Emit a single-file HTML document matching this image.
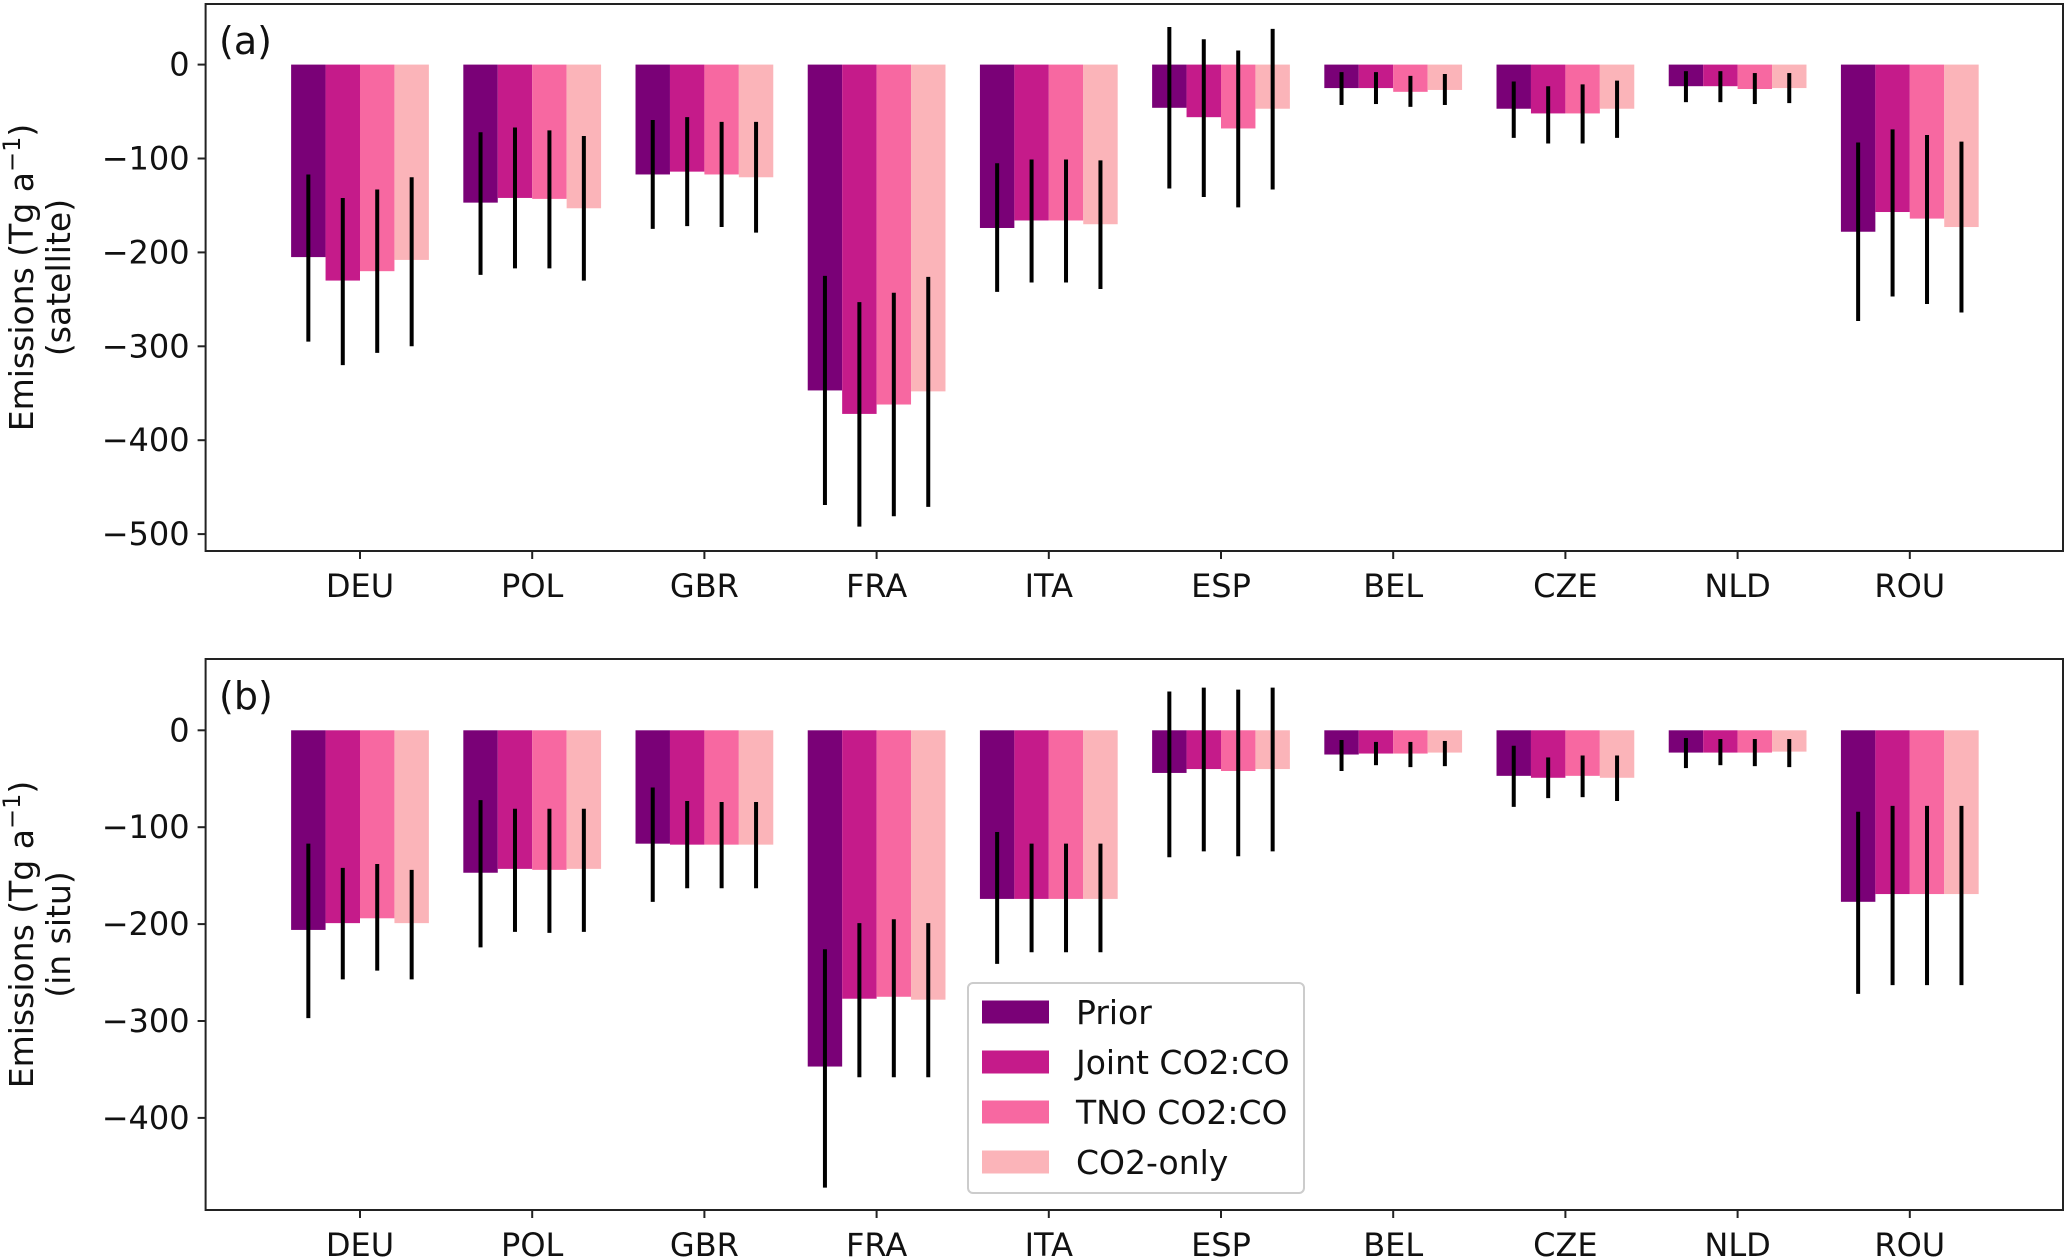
<!DOCTYPE html>
<html><head><meta charset="utf-8"><style>
body{margin:0;background:#fff}
svg{display:block;font-family:"DejaVu Sans","Liberation Sans",sans-serif}
</style></head><body>
<svg id="chart" width="2067" height="1258" viewBox="0 0 2067 1258" xmlns="http://www.w3.org/2000/svg"></svg>
<script>
const categories = ["DEU","POL","GBR","FRA","ITA","ESP","BEL","CZE","NLD","ROU"];
const seriesNames = ["Prior","Joint CO2:CO","TNO CO2:CO","CO2-only"];
const colors = ["#7a0177","#c51b8a","#f768a1","#fbb4b9"];
const yTicksA = [0,-100,-200,-300,-400,-500];
const yTicksB = [0,-100,-200,-300,-400];
// Panel (a) satellite
const aPrior = [-205,-147,-117,-347,-174,-46,-25,-47,-23,-178];
const aJoint = [-230,-142,-114,-372,-166,-56,-25,-52,-23,-157];
const aTNO   = [-220,-143,-117,-362,-166,-68,-29,-52,-26,-164];
const aCO2   = [-208,-153,-120,-348,-170,-47,-27,-47,-25,-173];
const aPriorLo = [-117,-72,-59,-225,-105,40,-8,-18,-7,-83];
const aPriorHi = [-295,-224,-175,-469,-242,-132,-43,-78,-40,-273];
const aJointLo = [-142,-67,-56,-253,-101,27,-8,-23,-7,-69];
const aJointHi = [-320,-217,-172,-492,-232,-141,-42,-84,-40,-247];
const aTNOLo = [-133,-70,-61,-243,-101,15,-12,-21,-9,-75];
const aTNOHi = [-307,-217,-173,-481,-232,-152,-45,-84,-42,-255];
const aCO2Lo = [-120,-76,-61,-226,-102,38,-10,-17,-9,-82];
const aCO2Hi = [-300,-230,-179,-471,-239,-133,-43,-78,-41,-264];
// Panel (b) in situ
const bPrior = [-206,-147,-117,-347,-174,-44,-25,-47,-23,-177];
const bJoint = [-199,-143,-118,-277,-174,-40,-24,-49,-23,-169];
const bTNO   = [-194,-144,-118,-275,-174,-42,-24,-47,-23,-169];
const bCO2   = [-199,-143,-118,-278,-174,-40,-23,-49,-22,-169];
const bPriorLo = [-117,-72,-59,-226,-105,40,-10,-16,-8,-84];
const bPriorHi = [-297,-224,-177,-472,-241,-131,-42,-79,-39,-272];
const bJointLo = [-142,-81,-73,-199,-117,44,-12,-28,-9,-78];
const bJointHi = [-257,-208,-163,-358,-229,-125,-36,-70,-36,-263];
const bTNOLo = [-138,-81,-74,-195,-117,42,-12,-26,-9,-78];
const bTNOHi = [-248,-209,-163,-358,-229,-130,-38,-69,-37,-263];
const bCO2Lo = [-144,-81,-74,-199,-117,44,-11,-26,-9,-78];
const bCO2Hi = [-257,-208,-163,-358,-229,-125,-37,-73,-38,-263];

const svg = document.getElementById('chart');
const NS = "http://www.w3.org/2000/svg";
function mk(tag, attrs, parent){const e=document.createElementNS(NS,tag);for(const k in attrs)e.setAttribute(k,attrs[k]);(parent||svg).appendChild(e);return e;}

const L=205.6,R=2063,x0=360,dx=172.2,bw=dx*0.2;
function xScale(i){return x0+i*dx;}

function panel(p){
  const g=mk('g',{});
  
  
  const yS=v=>p.zeroY - v*p.per100/100;
  const vals=[p.v0,p.v1,p.v2,p.v3], los=[p.l0,p.l1,p.l2,p.l3], his=[p.h0,p.h1,p.h2,p.h3];
  for(let s=0;s<4;s++){
    for(let i=0;i<categories.length;i++){
      const xc=xScale(i)+(s-1.5)*bw;
      const v=vals[s][i];
      const r=mk('rect',{x:xc-bw/2,y:Math.min(yS(0),yS(v)),width:bw,height:Math.abs(yS(v)-yS(0)),fill:colors[s]},g);
      
      
    }
  }
  for(let s=0;s<4;s++){
    for(let i=0;i<categories.length;i++){
      const xc=xScale(i)+(s-1.5)*bw;
      const e=mk('line',{x1:xc,x2:xc,y1:yS(los[s][i]),y2:yS(his[s][i]),stroke:'#000','stroke-width':4},g);
      
      
    }
  }
  const fr=mk('rect',{x:L,y:p.top,width:R-L,height:p.bottom-p.top,fill:'none',stroke:'#222','stroke-width':2},g);
  
  
  p.ticks.forEach(t=>{
    const yy=yS(t);
    mk('line',{x1:L-8,x2:L,y1:yy,y2:yy,stroke:'#222','stroke-width':2},g);
    const tx=mk('text',{x:L-16,y:yy+11,'text-anchor':'end','font-size':32,fill:'#111'},g);
    tx.textContent=(t<0?'\u2212':'')+Math.abs(t);
    
    
  });
  categories.forEach((c,i)=>{
    const xx=xScale(i);
    mk('line',{x1:xx,x2:xx,y1:p.bottom,y2:p.bottom+8,stroke:'#222','stroke-width':2},g);
    const tx=mk('text',{x:xx,y:p.bottom+46,'text-anchor':'middle','font-size':32,fill:'#111'},g);
    tx.textContent=c;
    
    
  });
  const lab=mk('text',{x:219,y:p.top+50,'font-size':38,fill:'#111'},g);
  lab.textContent=p.label;
  
  
  const cy=(p.top+p.bottom)/2;
  const yt=mk('text',{transform:`translate(33,${cy}) rotate(-90)`,'text-anchor':'middle','font-size':33,fill:'#111'},g);
  yt.innerHTML='Emissions (Tg a<tspan dy="-13" font-size="24">\u22121</tspan><tspan dy="13">)</tspan>';
  
  
  const yt2=mk('text',{transform:`translate(70,${cy}) rotate(-90)`,'text-anchor':'middle','font-size':33,fill:'#111'},g);
  yt2.textContent=p.sub;
  
  
}
panel({name:'panel-a-satellite',top:4,bottom:551,zeroY:64.6,per100:93.9,ticks:yTicksA,label:'(a)',sub:'(satellite)',
  v0:aPrior,v1:aJoint,v2:aTNO,v3:aCO2,l0:aPriorLo,l1:aJointLo,l2:aTNOLo,l3:aCO2Lo,h0:aPriorHi,h1:aJointHi,h2:aTNOHi,h3:aCO2Hi});
panel({name:'panel-b-in-situ',top:659,bottom:1210,zeroY:730.3,per100:96.9,ticks:yTicksB,label:'(b)',sub:'(in situ)',
  v0:bPrior,v1:bJoint,v2:bTNO,v3:bCO2,l0:bPriorLo,l1:bJointLo,l2:bTNOLo,l3:bCO2Lo,h0:bPriorHi,h1:bJointHi,h2:bTNOHi,h3:bCO2Hi});

const lg=mk('g',{});


mk('rect',{x:968,y:983,width:336,height:210,rx:5,fill:'#fff','fill-opacity':0.85,stroke:'#ccc','stroke-width':2},lg);
seriesNames.forEach((n,s)=>{
  const yy=1012+s*50;
  const pr=mk('rect',{x:982,y:yy-11.5,width:67,height:23,fill:colors[s]},lg);
  
  
  const t=mk('text',{x:1076,y:yy+12,'font-size':33,fill:'#111'},lg);
  t.textContent=n;
  
  
});
</script>
</body></html>
